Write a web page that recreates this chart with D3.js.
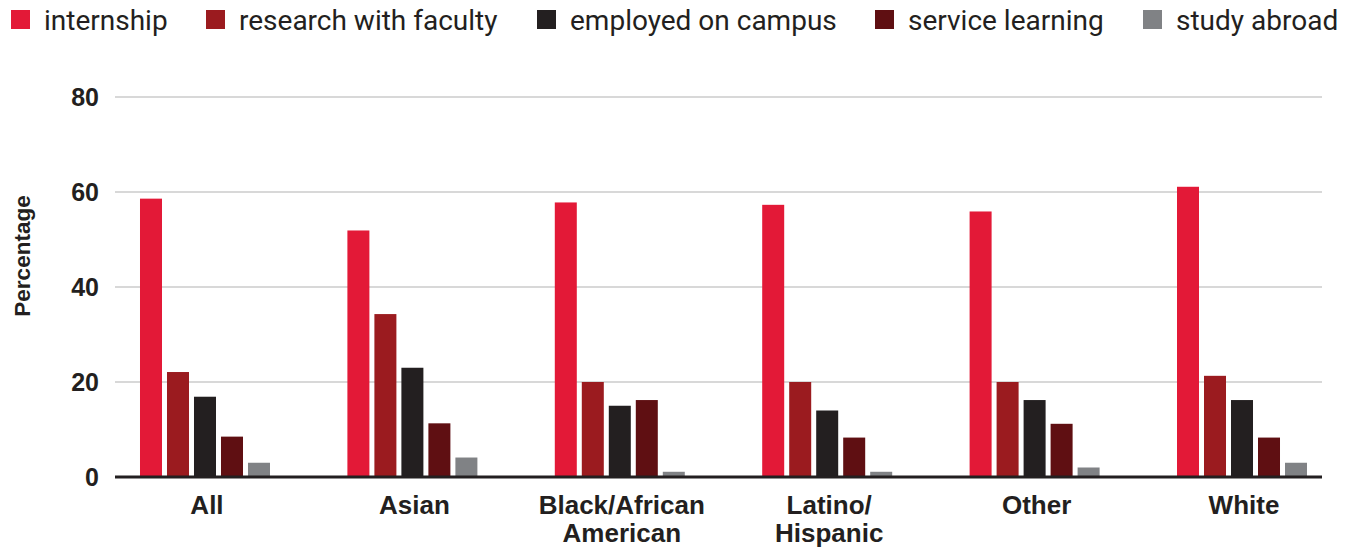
<!DOCTYPE html>
<html>
<head>
<meta charset="utf-8">
<script src="https://cdn.jsdelivr.net/npm/d3@7"></script>
<style>
  html, body { margin: 0; padding: 0; background: #ffffff; }
  svg { display: block; }
</style>
</head>
<body>
<svg id="chart" width="1355" height="548"></svg>
<script>
// Participation in high-impact activities by race/ethnicity (percent)
const categories = ["All", "Asian", "Black/African American", "Latino/ Hispanic", "Other", "White"];
const categoryLines = [["All"], ["Asian"], ["Black/African", "American"], ["Latino/", "Hispanic"], ["Other"], ["White"]];
const seriesNames = ["internship", "research with faculty", "employed on campus", "service learning", "study abroad"];
const seriesColors = ["#e31937", "#9b1b1f", "#231f20", "#5f0f12", "#808285"];

const internship = [58.6, 51.9, 57.8, 57.3, 55.9, 61.1];
const researchWithFaculty = [22.1, 34.3, 20.0, 20.0, 20.0, 21.3];
const employedOnCampus = [16.9, 23.0, 15.0, 14.0, 16.2, 16.2];
const serviceLearning = [8.5, 11.3, 16.2, 8.3, 11.2, 8.3];
const studyAbroad = [3.0, 4.1, 1.1, 1.1, 2.0, 3.0];

const yTicks = [0, 20, 40, 60, 80];
const legendX = [11, 206, 537, 875, 1143];

const seriesValues = [internship, researchWithFaculty, employedOnCampus, serviceLearning, studyAbroad];
const rows = categories.map((c, i) => ({
  category: c,
  lines: categoryLines[i],
  values: seriesNames.map((s, j) => ({ series: s, value: seriesValues[j][i], color: seriesColors[j] }))
}));

const svg = d3.select("#chart");
const plot = { left: 115, right: 1322, top: 97, bottom: 477 };
const ink = "#231f20";

const y = d3.scaleLinear().domain([0, 80]).range([plot.bottom, plot.top]);

const x0 = d3.scaleBand()
  .domain(categories)
  .range([plot.left, plot.right])
  .paddingInner(0.3732)
  .paddingOuter(0.0964)
  .align(0.625);

const x1 = d3.scaleBand()
  .domain(seriesNames)
  .range([0, x0.bandwidth()])
  .paddingInner(5 / 27)
  .paddingOuter(0);

// Horizontal gridlines
svg.append("g")
  .selectAll("line")
  .data(yTicks.filter(d => d !== 0))
  .join("line")
  .attr("x1", plot.left)
  .attr("x2", plot.right)
  .attr("y1", d => y(d))
  .attr("y2", d => y(d))
  .attr("stroke", "#d8d8d8")
  .attr("stroke-width", 2);

// Y axis tick labels
svg.append("g")
  .selectAll("text")
  .data(yTicks)
  .join("text")
  .attr("x", 99)
  .attr("y", d => y(d))
  .attr("dy", "0.36em")
  .attr("text-anchor", "end")
  .attr("font-family", "'Liberation Sans', Arial, sans-serif")
  .attr("font-weight", "bold")
  .attr("font-size", 25)
  .attr("fill", ink)
  .text(d => d);

// Y axis title
svg.append("text")
  .attr("transform", `translate(30, 256) rotate(-90)`)
  .attr("text-anchor", "middle")
  .attr("font-family", "'Liberation Sans', Arial, sans-serif")
  .attr("font-weight", "bold")
  .attr("font-size", 22.5)
  .attr("fill", ink)
  .text("Percentage");

// Bars
const groups = svg.append("g")
  .selectAll("g")
  .data(rows)
  .join("g")
  .attr("transform", d => `translate(${x0(d.category)},0)`);

groups.selectAll("rect")
  .data(d => d.values)
  .join("rect")
  .attr("x", d => x1(d.series))
  .attr("width", x1.bandwidth())
  .attr("y", d => y(d.value))
  .attr("height", d => y(0) - y(d.value))
  .attr("fill", d => d.color);

// Baseline
svg.append("line")
  .attr("x1", plot.left)
  .attr("x2", plot.right)
  .attr("y1", y(0))
  .attr("y2", y(0))
  .attr("stroke", ink)
  .attr("stroke-width", 3);

// Category labels
const catLabels = svg.append("g")
  .selectAll("text")
  .data(rows)
  .join("text")
  .attr("x", d => x0(d.category) + x0.bandwidth() / 2 + 2)
  .attr("y", 514)
  .attr("text-anchor", "middle")
  .attr("font-family", "'Liberation Sans', Arial, sans-serif")
  .attr("font-weight", "bold")
  .attr("font-size", 26)
  .attr("fill", ink);

catLabels.selectAll("tspan")
  .data(d => d.lines.map(l => ({ line: l, x: x0(d.category) + x0.bandwidth() / 2 + 2 })))
  .join("tspan")
  .attr("x", d => d.x)
  .attr("dy", (d, i) => i === 0 ? 0 : 28)
  .text(d => d.line);

// Legend
const legend = svg.append("g")
  .selectAll("g")
  .data(seriesNames)
  .join("g")
  .attr("transform", (d, i) => `translate(${legendX[i]},10)`);

legend.append("rect")
  .attr("width", 19)
  .attr("height", 19)
  .attr("fill", (d, i) => seriesColors[i]);

legend.append("text")
  .attr("x", 33)
  .attr("y", 19.5)
  .attr("font-family", "Roboto, 'Liberation Sans', sans-serif")
  .attr("font-size", 28)
  .attr("fill", ink)
  .text(d => d);
</script>
</body>
</html>
